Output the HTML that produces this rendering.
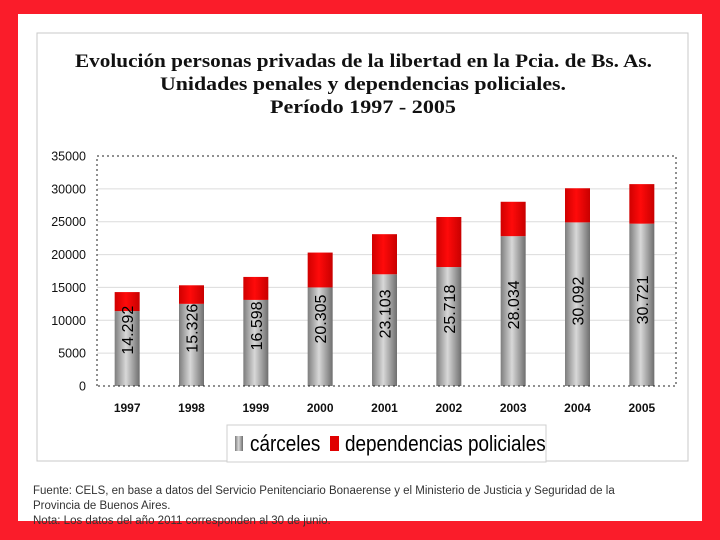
<!DOCTYPE html>
<html><head><meta charset="utf-8">
<style>
body{margin:0;width:720px;height:540px;background:#fa1c2a;position:relative;overflow:hidden;font-family:"Liberation Sans",Arial,sans-serif}
#panel{position:absolute;left:18px;top:14px;width:684px;height:507px;background:#fff}
#foot{position:absolute;left:33px;top:484px;font-size:11.5px;line-height:15px;color:#333;width:615px}
</style></head>
<body>
<div id="panel"></div>
<svg id="chart" width="720" height="540" style="position:absolute;left:0;top:0">
<defs>
<linearGradient id="gGray" x1="0" x2="1" y1="0" y2="0">
<stop offset="0" stop-color="#7d7d7d"/><stop offset="0.45" stop-color="#d8d8d8"/><stop offset="1" stop-color="#6e6e6e"/></linearGradient>
<linearGradient id="gRed" x1="0" x2="1" y1="0" y2="0">
<stop offset="0" stop-color="#d00000"/><stop offset="0.45" stop-color="#ff0a0a"/><stop offset="1" stop-color="#c80000"/></linearGradient>
</defs>
<rect x="37" y="33" width="651" height="428" fill="#fff" stroke="#c8c8c8"/>
<g font-family="'Liberation Serif',serif" font-weight="bold" font-size="19" fill="#111" lengthAdjust="spacingAndGlyphs">
<text x="75" y="67" textLength="577" lengthAdjust="spacingAndGlyphs">Evolución personas privadas de la libertad en la Pcia. de Bs. As.</text>
<text x="160" y="90" textLength="406" lengthAdjust="spacingAndGlyphs">Unidades penales y dependencias policiales.</text>
<text x="270" y="113" textLength="186" lengthAdjust="spacingAndGlyphs">Período 1997 - 2005</text>
</g>
<g id="grid"></g><g id="bars"></g><g id="axes"></g>
<g>
<rect x="227" y="425" width="319" height="37" fill="#fff" stroke="#cfcfcf"/>
<rect x="235" y="436" width="8" height="15" fill="url(#gGray)"/>
<text x="250" y="451" font-size="22" transform="translate(250 0) scale(0.86 1) translate(-250 0)">cárceles</text>
<rect x="330" y="436" width="9" height="15" fill="#e00000"/>
<text x="345" y="451" font-size="22" transform="translate(345 0) scale(0.86 1) translate(-345 0)">dependencias policiales</text>
</g>
</svg>
<div id="foot">Fuente: CELS, en base a datos del Servicio Penitenciario Bonaerense y el Ministerio de Justicia y Seguridad de la Provincia de Buenos Aires.<br>Nota: Los datos del año 2011 corresponden al 30 de junio.</div>
<script>
const years=["1997","1998","1999","2000","2001","2002","2003","2004","2005"];
const carceles=[11400,12500,13100,15000,17000,18100,22800,24900,24700];
const totals=[14292,15326,16598,20305,23103,25718,28034,30092,30721];
const totalLabels=["14.292","15.326","16.598","20.305","23.103","25.718","28.034","30.092","30.721"];
const yTicks=[0,5000,10000,15000,20000,25000,30000,35000];
const NS="http://www.w3.org/2000/svg";
const X0=97,X1=676,Y0=386,Y1=156,YMAX=35000;
const y=v=>Y0-(v/YMAX)*(Y0-Y1);
const step=(X1-X0)/years.length;
const xc=i=>X0+step*(i+0.5)-2;
function mk(tag,attrs,parent){const e=document.createElementNS(NS,tag);for(const k in attrs)e.setAttribute(k,attrs[k]);parent.appendChild(e);return e;}
const grid=document.getElementById('grid'),bars=document.getElementById('bars'),axes=document.getElementById('axes');
yTicks.forEach(t=>{
  if(t>0&&t<YMAX){const l=mk('line',{x1:X0,x2:X1,y1:y(t),y2:y(t),stroke:'#dcdcdc'},grid);
  
  }
  const tx=mk('text',{x:86,y:y(t)+4.5,'text-anchor':'end','font-size':'12.5',fill:'#111'},axes);
  tx.textContent=t;
  
  
});
const frame=mk('path',{d:`M${X0} ${Y0}V${Y1}H${X1}V${Y0}H${X0}`,fill:'none',stroke:'#222','stroke-dasharray':'2 3'},axes);


const W=25;
years.forEach((yr,i)=>{
  const cx=xc(i);
  const g=mk('rect',{x:cx-W/2,y:y(carceles[i]),width:W,height:Y0-y(carceles[i]),fill:'url(#gGray)'},bars);
  
  
  const r=mk('rect',{x:cx-W/2,y:y(totals[i]),width:W,height:y(carceles[i])-y(totals[i]),fill:'url(#gRed)'},bars);
  
  
  const ly=y(totals[i]*0.28+4500);
  const lb=mk('text',{x:cx+6,y:ly,'text-anchor':'middle','font-size':'16',fill:'#000',transform:`rotate(-90 ${cx+6} ${ly})`},bars);
  lb.textContent=totalLabels[i];
  
  
  const xt=mk('text',{x:cx,y:412,'text-anchor':'middle','font-size':'12','font-weight':'bold',fill:'#111'},axes);
  xt.textContent=yr;
  
  
});
</script>
</body></html>
